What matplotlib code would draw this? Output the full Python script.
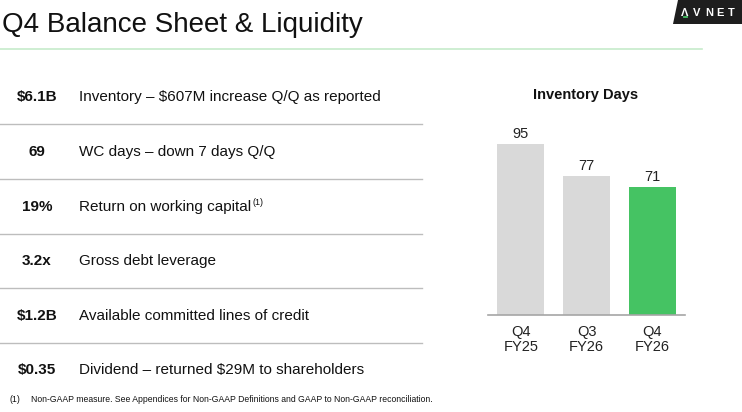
import matplotlib
matplotlib.use("Agg")
import matplotlib.pyplot as plt
from matplotlib.patches import Polygon

plt.rcParams['font.family'] = ['Liberation Sans', 'DejaVu Sans']

# data
title = "Q4 Balance Sheet & Liquidity"
row_values = ["$6.1B", "69", "19%", "3.2x", "$1.2B", "$0.35"]
row_texts = [
    "Inventory – $607M increase Q/Q as reported",
    "WC days – down 7 days Q/Q",
    "Return on working capital",
    "Gross debt leverage",
    "Available committed lines of credit",
    "Dividend – returned $29M to shareholders",
]
row_notes = ["", "", "(1)", "", "", ""]
footnote = "Non-GAAP measure. See Appendices for Non-GAAP Definitions and GAAP to Non-GAAP reconciliation."

chart_title = "Inventory Days"
periods = ["Q4\nFY25", "Q3\nFY26", "Q4\nFY26"]
inv_days = [95, 77, 71]
bar_colors = ["#d9d9d9", "#d9d9d9", "#45c363"]

W, H = 742, 412
fig = plt.figure(figsize=(W / 100, H / 100), dpi=100)
fig.patch.set_facecolor("white")

# full-figure axes in pixel coords for the slide text
bg = fig.add_axes([0, 0, 1, 1])
bg.set_xlim(0, W)
bg.set_ylim(H, 0)
bg.axis("off")

bg.text(2, 25, title, fontsize=20, color="#111111", va="center", ha="left")
bg.plot([0, 702], [48.5, 48.5], color="#c6ebcb", lw=1.2)

# logo
bg.add_patch(Polygon([(678, 0), (742, 0), (742, 24), (673, 24)], closed=True,
                     facecolor="#1e1e1e", edgecolor="none"))
for ch, x in zip(["Λ", "V", "N", "E", "T"], [685, 697, 709, 720, 731]):
    bg.text(x, 13, ch, color="white", fontsize=8, fontweight="bold", ha="center", va="center")
bg.plot([683.5, 686.5], [17.3, 17.3], color="#45c363", lw=1.3)

# rows
row_y = [97, 152, 207, 261, 316, 370]
fig.canvas.draw()
renderer = fig.canvas.get_renderer()
for i, (v, t, n) in enumerate(zip(row_values, row_texts, row_notes)):
    y = row_y[i]
    bg.text(37, y, v, fontsize=11, fontweight="bold", color="#111111", ha="center", va="center")
    txt = bg.text(79, y, t, fontsize=11, color="#111111", ha="left", va="center")
    if n:
        bb = txt.get_window_extent(renderer=renderer)
        bg.text(bb.x1 + 1, y - 5, n, fontsize=6.5, color="#111111", ha="left", va="center")
    if i < len(row_values) - 1:
        sep = (row_y[i] + row_y[i + 1]) / 2 - 0.5
        bg.plot([0, 422], [sep, sep], color="#bdbdbd", lw=1.0)

bg.text(10, 399, "(1)", fontsize=6.3, color="#111111", ha="left", va="center")
bg.text(31, 399, footnote, fontsize=6.2, color="#111111", ha="left", va="center")

# bar chart
ax = fig.add_axes([488 / W, (H - 315) / H, 197 / W, 180 / H])
ax.patch.set_alpha(0)
x = range(len(periods))
bars = ax.bar(x, inv_days, width=0.72, color=bar_colors, zorder=2)
ax.set_xlim(-0.5, 2.5)
ax.set_ylim(0, 100)
for s in ["top", "right", "left"]:
    ax.spines[s].set_visible(False)
ax.spines["bottom"].set_color("#a6a6a6")
ax.spines["bottom"].set_linewidth(1.2)
ax.set_yticks([])
ax.set_xticks(list(x))
ax.set_xticklabels(periods, fontsize=10.5, color="#222222", linespacing=1.15)
ax.tick_params(axis="x", length=0, pad=7)
for b, val in zip(bars, inv_days):
    ax.annotate(str(val), (b.get_x() + b.get_width() / 2, val), xytext=(0, 2.5),
                textcoords="offset points", ha="center", va="bottom",
                fontsize=10.5, color="#222222")

bg.text(586, 95, chart_title, fontsize=10.5, fontweight="bold", color="#111111",
        ha="center", va="center")

fig.savefig("out.png", dpi=100, facecolor="white")
